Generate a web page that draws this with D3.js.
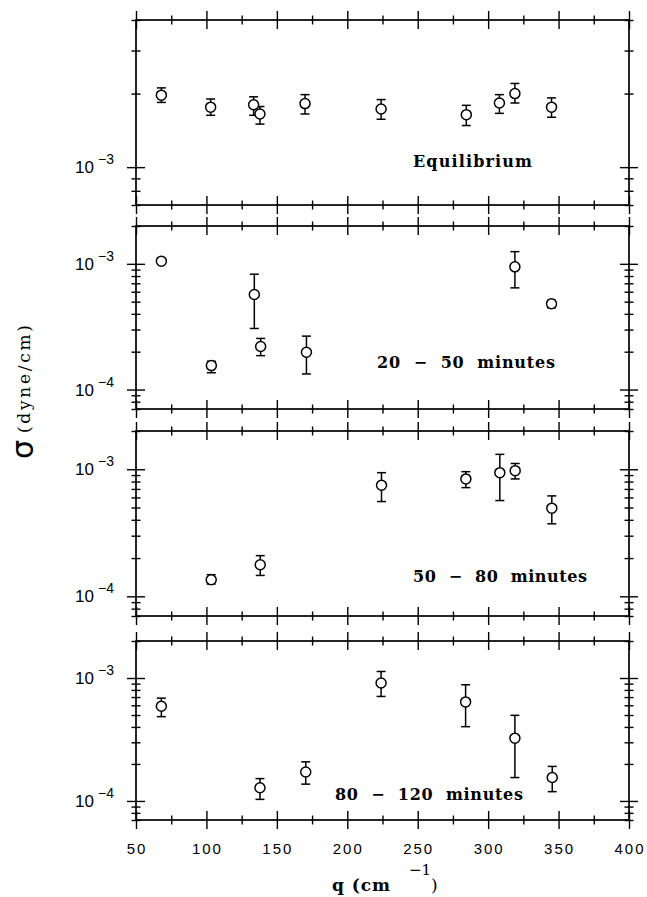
<!DOCTYPE html>
<html lang="en">
<head>
<meta charset="UTF-8">
<title>Surface tension vs q</title>
<script src="https://d3js.org/d3.v7.min.js"></script>
<style>
  body { margin: 0; background: #fff; }
  svg { display: block; }
  .tick line { stroke: #000; stroke-width: 1.4; }
</style>
</head>
<body>
<div id="chart"></div>
<script>
// axis ticks
var qTicks = [50, 100, 150, 200, 250, 300, 350, 400];
var qMinorTicks = [75, 125, 175, 225, 275, 325, 375];
var qDomain = [50, 400];

var panelLabels = ['Equilibrium', '20  \u2212  50  minutes', '50  \u2212  80  minutes', '80  \u2212  120  minutes'];
var sigmaDomains = [[7e-4, 4e-3], [7e-5, 2e-3], [7e-5, 2e-3], [7e-5, 2e-3]];
var sigmaLabelExponents = [[-3], [-3, -4], [-3, -4], [-3, -4]];

// Equilibrium
var eqQ     = [68, 103, 133.5, 138, 170, 224, 284.5, 308, 319, 345];
var eqSigma = [1.97e-3, 1.76e-3, 1.80e-3, 1.65e-3, 1.82e-3, 1.73e-3, 1.64e-3, 1.83e-3, 2.00e-3, 1.76e-3];
var eqLow   = [1.84e-3, 1.63e-3, 1.63e-3, 1.50e-3, 1.65e-3, 1.57e-3, 1.48e-3, 1.66e-3, 1.83e-3, 1.60e-3];
var eqHigh  = [2.11e-3, 1.90e-3, 1.94e-3, 1.77e-3, 1.98e-3, 1.89e-3, 1.79e-3, 1.98e-3, 2.20e-3, 1.92e-3];

// 20 - 50 minutes (first point has no error bar)
var t20Q     = [68, 103.5, 134, 138.5, 171, 319, 345];
var t20Sigma = [1.05e-3, 1.55e-4, 5.7e-4, 2.2e-4, 1.98e-4, 9.46e-4, 4.81e-4];
var t20Low   = [null, 1.36e-4, 3.06e-4, 1.86e-4, 1.33e-4, 6.44e-4, 4.47e-4];
var t20High  = [null, 1.68e-4, 8.27e-4, 2.55e-4, 2.66e-4, 1.25e-3, 5.13e-4];

// 50 - 80 minutes
var t50Q     = [103.4, 138.2, 224.3, 284.2, 308.3, 319.2, 345.2];
var t50Sigma = [1.35e-4, 1.77e-4, 7.49e-4, 8.39e-4, 9.40e-4, 9.75e-4, 4.94e-4];
var t50Low   = [1.25e-4, 1.46e-4, 5.57e-4, 7.17e-4, 5.67e-4, 8.39e-4, 3.72e-4];
var t50High  = [1.48e-4, 2.09e-4, 9.40e-4, 9.57e-4, 1.31e-3, 1.11e-3, 6.17e-4];

// 80 - 120 minutes
var t80Q     = [68, 138, 170.5, 224, 284, 319, 345.5];
var t80Sigma = [5.89e-4, 1.28e-4, 1.72e-4, 9.10e-4, 6.39e-4, 3.24e-4, 1.55e-4];
var t80Low   = [4.85e-4, 1.03e-4, 1.37e-4, 7.08e-4, 4.02e-4, 1.55e-4, 1.19e-4];
var t80High  = [6.86e-4, 1.52e-4, 2.08e-4, 1.13e-3, 8.81e-4, 4.97e-4, 1.91e-4];

var panels = [
  { q: eqQ, sigma: eqSigma, low: eqLow, high: eqHigh },
  { q: t20Q, sigma: t20Sigma, low: t20Low, high: t20High },
  { q: t50Q, sigma: t50Sigma, low: t50Low, high: t50High },
  { q: t80Q, sigma: t80Sigma, low: t80Low, high: t80High }
];

// layout (pixels)
var W = 647, H = 897;
var plotLeft = 136, plotRight = 629;
var panelBox = [[20, 205], [226, 409], [431, 616], [641, 820]];
var labelPos = [[413, 167, 119], [377, 368, 178], [413, 582, 174], [335, 800, 188]];
var majorLen = 9, minorLen = 4.5;
var serif = 'DejaVu Serif, serif';

var svg = d3.select('#chart').append('svg')
  .attr('width', W)
  .attr('height', H);

var x = d3.scaleLinear().domain(qDomain).range([plotLeft, plotRight]);

function logTicks(domain) {
  var major = [], minor = [];
  var lo = Math.floor(Math.log10(domain[0])), hi = Math.ceil(Math.log10(domain[1]));
  for (var d = lo; d <= hi; d++) {
    for (var k = 1; k <= 9; k++) {
      var v = +(k * Math.pow(10, d)).toPrecision(6);
      if (v < domain[0] * 0.999 || v > domain[1] * 1.001) continue;
      (k === 1 ? major : minor).push(v);
    }
  }
  return { major: major, minor: minor };
}

// ticks that cross the axis line: two axes back to back
function crossTicks(g, axA, axB, scale, vals, len, transform) {
  [axA, axB].forEach(function(ax) {
    g.append('g')
      .attr('transform', transform)
      .call(ax(scale).tickValues(vals).tickSize(len).tickFormat(''))
      .call(function(s) { s.select('.domain').remove(); });
  });
}

panels.forEach(function(p, i) {
  var top = panelBox[i][0], bottom = panelBox[i][1];
  var y = d3.scaleLog().domain(sigmaDomains[i]).range([bottom, top]);
  var g = svg.append('g');
  var lt = logTicks(sigmaDomains[i]);

  // x ticks on top and bottom
  [top, bottom].forEach(function(yy) {
    crossTicks(g, d3.axisTop, d3.axisBottom, x, qTicks, majorLen, 'translate(0,' + yy + ')');
    crossTicks(g, d3.axisTop, d3.axisBottom, x, qMinorTicks, minorLen, 'translate(0,' + yy + ')');
  });
  // y ticks on left and right
  [plotLeft, plotRight].forEach(function(xx) {
    crossTicks(g, d3.axisLeft, d3.axisRight, y, lt.major, majorLen, 'translate(' + xx + ',0)');
    crossTicks(g, d3.axisLeft, d3.axisRight, y, lt.minor, minorLen, 'translate(' + xx + ',0)');
  });

  g.append('rect')
    .attr('x', plotLeft).attr('y', top)
    .attr('width', plotRight - plotLeft).attr('height', bottom - top)
    .attr('fill', 'none').attr('stroke', '#000').attr('stroke-width', 1.7);

  // y tick labels 10^n
  sigmaLabelExponents[i].forEach(function(e) {
    var t = g.append('text')
      .attr('x', 114).attr('y', y(Math.pow(10, e)) + 6)
      .attr('text-anchor', 'end')
      .attr('font-family', 'Liberation Sans, Arial, sans-serif')
      .attr('font-size', 17);
    t.append('tspan').text('10');
    t.append('tspan').attr('dx', 4).attr('dy', -9).attr('font-size', 14).text('\u2212' + Math.abs(e));
  });

  // error bars
  var pts = p.q.map(function(q, j) {
    return { q: q, s: p.sigma[j], lo: p.low[j], hi: p.high[j] };
  });
  var eb = g.selectAll('.eb').data(pts.filter(function(d) { return d.lo != null; }))
    .enter().append('g').attr('stroke', '#000').attr('stroke-width', 1.5);
  eb.append('line')
    .attr('x1', function(d) { return x(d.q); }).attr('x2', function(d) { return x(d.q); })
    .attr('y1', function(d) { return y(d.lo); }).attr('y2', function(d) { return y(d.hi); });
  ['lo', 'hi'].forEach(function(k) {
    eb.append('line')
      .attr('x1', function(d) { return x(d.q) - 4.5; }).attr('x2', function(d) { return x(d.q) + 4.5; })
      .attr('y1', function(d) { return y(d[k]); }).attr('y2', function(d) { return y(d[k]); });
  });

  g.selectAll('circle').data(pts).enter().append('circle')
    .attr('cx', function(d) { return x(d.q); })
    .attr('cy', function(d) { return y(d.s); })
    .attr('r', 5)
    .attr('fill', '#fff').attr('stroke', '#000').attr('stroke-width', 1.5);

  // panel label
  g.append('text')
    .attr('x', labelPos[i][0]).attr('y', labelPos[i][1])
    .attr('textLength', labelPos[i][2]).attr('lengthAdjust', 'spacing')
    .attr('font-family', serif)
    .attr('font-weight', 'bold')
    .attr('font-size', 16)
    .style('white-space', 'pre')
    .text(panelLabels[i]);
});

// x tick labels under the last panel
svg.append('g').selectAll('text').data(qTicks).enter().append('text')
  .attr('x', function(d) { return x(d) + 1; })
  .attr('y', 854)
  .attr('text-anchor', 'middle')
  .attr('font-family', 'Liberation Sans, Arial, sans-serif')
  .attr('font-size', 15)
  .attr('letter-spacing', 2)
  .text(function(d) { return d; });

// x axis title
svg.append('text').attr('x', 332).attr('y', 891)
  .attr('font-family', serif).attr('font-weight', 'bold').attr('font-size', 17)
  .attr('textLength', 58).attr('lengthAdjust', 'spacing')
  .style('white-space', 'pre')
  .text('q (cm');
svg.append('text').attr('x', 409).attr('y', 875)
  .attr('font-family', serif).attr('font-size', 15)
  .text('\u22121');
svg.append('text').attr('x', 431).attr('y', 891)
  .attr('font-family', serif).attr('font-size', 17)
  .text(')');

// y axis title
svg.append('text')
  .attr('transform', 'translate(33,459) rotate(-90)')
  .attr('font-family', 'DejaVu Sans, sans-serif')
  .attr('font-size', 30)
  .text('\u03c3');
svg.append('text')
  .attr('transform', 'translate(30,433) rotate(-90)')
  .attr('font-family', serif).attr('font-size', 17)
  .attr('textLength', 108).attr('lengthAdjust', 'spacing')
  .text('(dyne/cm)');
</script>
</body>
</html>
